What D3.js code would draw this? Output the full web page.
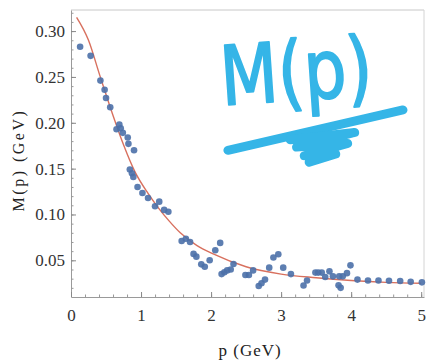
<!DOCTYPE html>
<html>
<head>
<meta charset="utf-8">
<script src="https://cdn.jsdelivr.net/npm/d3@7"></script>
<style>
  html, body { margin: 0; padding: 0; background: #fff; }
  svg { display: block; }
</style>
</head>
<body>
<div id="chart"></div>
<script>
// lattice data points: momentum p (GeV) and mass M(p) (GeV)
const pVals = [0.13, 0.28, 0.42, 0.48, 0.50, 0.56, 0.65, 0.69, 0.71, 0.74,
  0.81, 0.82, 0.90, 0.84, 0.87, 0.89, 0.95, 1.02, 1.10, 1.20,
  1.26, 1.33, 1.39, 1.58, 1.64, 1.70, 1.75, 1.79, 1.86, 1.91,
  1.98, 2.06, 2.13, 2.15, 2.19, 2.23, 2.28, 2.32, 2.49, 2.54,
  2.60, 2.68, 2.72, 2.77, 2.83, 2.89, 2.96, 3.03, 3.14, 3.32,
  3.37, 3.49, 3.53, 3.58, 3.63, 3.69, 3.74, 3.82, 3.85, 3.83,
  3.88, 3.94, 3.99, 4.09, 4.24, 4.39, 4.54, 4.70, 4.85, 5.01];
const mVals = [0.283, 0.273, 0.246, 0.236, 0.227, 0.217, 0.193, 0.198, 0.194, 0.189,
  0.184, 0.177, 0.170, 0.149, 0.145, 0.141, 0.130, 0.1235, 0.118, 0.109,
  0.114, 0.105, 0.103, 0.071, 0.0735, 0.070, 0.057, 0.054, 0.0456, 0.043,
  0.050, 0.061, 0.069, 0.035, 0.037, 0.039, 0.040, 0.046, 0.034, 0.034,
  0.039, 0.022, 0.025, 0.029, 0.042, 0.053, 0.0566, 0.042, 0.035, 0.0225,
  0.028, 0.0366, 0.0366, 0.0366, 0.0318, 0.038, 0.0325, 0.0227, 0.020, 0.0325,
  0.0325, 0.036, 0.0445, 0.029, 0.028, 0.028, 0.0277, 0.0274, 0.0265, 0.026];

// fit curve
const fitP = [0.08, 0.25, 0.41, 0.6, 0.75, 0.91, 1.1, 1.25, 1.4, 1.56, 1.8, 2.03, 2.5, 3.0, 3.5, 4.0, 4.5, 5.0];
const fitM = [0.315, 0.29, 0.252, 0.208, 0.176, 0.147, 0.123, 0.107, 0.093, 0.080, 0.066, 0.057, 0.043, 0.035, 0.031, 0.028, 0.026, 0.025];

const xTicks = [0, 1, 2, 3, 4, 5];
const yTicks = [0.05, 0.10, 0.15, 0.20, 0.25, 0.30];

// hand-drawn marker annotation, in data units
const noteLabel = 'M(p)';
const noteStrokes = [
  [[2.24, 0.170], [4.74, 0.214]],
  [[3.13, 0.1815], [4.05, 0.1895], [3.22, 0.1735], [3.95, 0.1775], [3.33, 0.164], [3.78, 0.166], [3.40, 0.157]]
];

const W = 426, H = 362;
const svg = d3.select('#chart').append('svg').attr('width', W).attr('height', H);

const x = d3.scaleLinear().domain([0, 5.04]).range([71, 424]);
const y = d3.scaleLinear().domain([0.01, 0.323]).range([297, 10]);

const serif = '"Liberation Serif", "DejaVu Serif", serif';

// frame (top and right, faint)
svg.append('line').attr('x1', x(0)).attr('x2', x(5.04)).attr('y1', y(0.323)).attr('y2', y(0.323))
  .attr('stroke', '#c8c8c8').attr('stroke-width', 1);
svg.append('line').attr('x1', x(5.04)).attr('x2', x(5.04)).attr('y1', y(0.323)).attr('y2', y(0.01))
  .attr('stroke', '#d4d4d4').attr('stroke-width', 1);

// minor ticks
const yMinor = d3.range(0.02, 0.321, 0.01).map(v => +v.toFixed(2));
const xMinor = d3.range(0.2, 5.01, 0.2).map(v => +v.toFixed(1));

svg.append('g').attr('transform', `translate(${x(0)},0)`)
  .call(d3.axisLeft(y).tickValues(yMinor).tickSizeInner(-2.5).tickSizeOuter(0).tickFormat(''))
  .call(g => g.selectAll('line').attr('stroke', '#999'))
  .call(g => g.select('.domain').attr('stroke', '#9a9a9a'));

svg.append('g').attr('transform', `translate(0,${y(0.01)})`)
  .call(d3.axisBottom(x).tickValues(xMinor).tickSizeInner(-2.5).tickSizeOuter(0).tickFormat(''))
  .call(g => g.selectAll('line').attr('stroke', '#999'))
  .call(g => g.select('.domain').attr('stroke', '#9a9a9a'));

// major ticks + labels
const yAxis = svg.append('g').attr('transform', `translate(${x(0)},0)`)
  .call(d3.axisLeft(y).tickValues(yTicks).tickSizeInner(-5).tickSizeOuter(0).tickPadding(6).tickFormat(d3.format('.2f')));
yAxis.select('.domain').remove();
yAxis.selectAll('line').attr('stroke', '#888');
yAxis.selectAll('text').attr('font-family', serif).attr('font-size', 17).attr('fill', '#333');

const xAxis = svg.append('g').attr('transform', `translate(0,${y(0.01)})`)
  .call(d3.axisBottom(x).tickValues(xTicks).tickSizeInner(-5).tickSizeOuter(0).tickPadding(12).tickFormat(d3.format('d')));
xAxis.select('.domain').remove();
xAxis.selectAll('line').attr('stroke', '#888');
xAxis.selectAll('text').attr('font-family', serif).attr('font-size', 17).attr('fill', '#333');

// axis titles
svg.append('text')
  .attr('transform', `translate(24,${(y(0.30) + y(0.01)) / 2 - 4}) rotate(-90)`)
  .attr('text-anchor', 'middle')
  .attr('font-family', serif).attr('font-size', 16).attr('fill', '#222')
  .attr('letter-spacing', 2.5)
  .text('M(p) (GeV)');

svg.append('text')
  .attr('x', (x(0) + x(5)) / 2 + 4).attr('y', 356)
  .attr('text-anchor', 'middle')
  .attr('font-family', serif).attr('font-size', 17).attr('fill', '#222')
  .attr('letter-spacing', 1)
  .text('p (GeV)');

// fit curve
const fit = fitP.map((p, i) => [p, fitM[i]]);
svg.append('path')
  .datum(fit)
  .attr('fill', 'none')
  .attr('stroke', '#d8705e')
  .attr('stroke-width', 1.4)
  .attr('d', d3.line().x(d => x(d[0])).y(d => y(d[1])).curve(d3.curveMonotoneX));

// points
const pts = pVals.map((p, i) => [p, mVals[i]]);
svg.append('g')
  .selectAll('circle')
  .data(pts)
  .enter()
  .append('circle')
  .attr('cx', d => x(d[0]))
  .attr('cy', d => y(d[1]))
  .attr('r', 3.3)
  .attr('fill', '#4b70a8')
  .attr('fill-opacity', 0.9);

// hand-written note
const ink = '#35b5e7';
const nx = x(2.16), ny = y(0.219);
svg.append('text')
  .attr('x', nx).attr('y', ny)
  .attr('transform', `rotate(-4,${nx},${ny})`)
  .attr('font-family', '"DejaVu Sans", sans-serif')
  .attr('font-size', 82)
  .attr('textLength', 152)
  .attr('lengthAdjust', 'spacingAndGlyphs')
  .attr('fill', ink)
  .attr('stroke', ink)
  .attr('stroke-width', 2)
  .attr('stroke-linejoin', 'round')
  .text(noteLabel);

const noteLine = d3.line().x(d => x(d[0])).y(d => y(d[1]));
svg.append('g')
  .selectAll('path')
  .data(noteStrokes)
  .enter()
  .append('path')
  .attr('d', noteLine)
  .attr('fill', 'none')
  .attr('stroke', ink)
  .attr('stroke-width', 9)
  .attr('stroke-linecap', 'round')
  .attr('stroke-linejoin', 'round');
</script>
</body>
</html>
